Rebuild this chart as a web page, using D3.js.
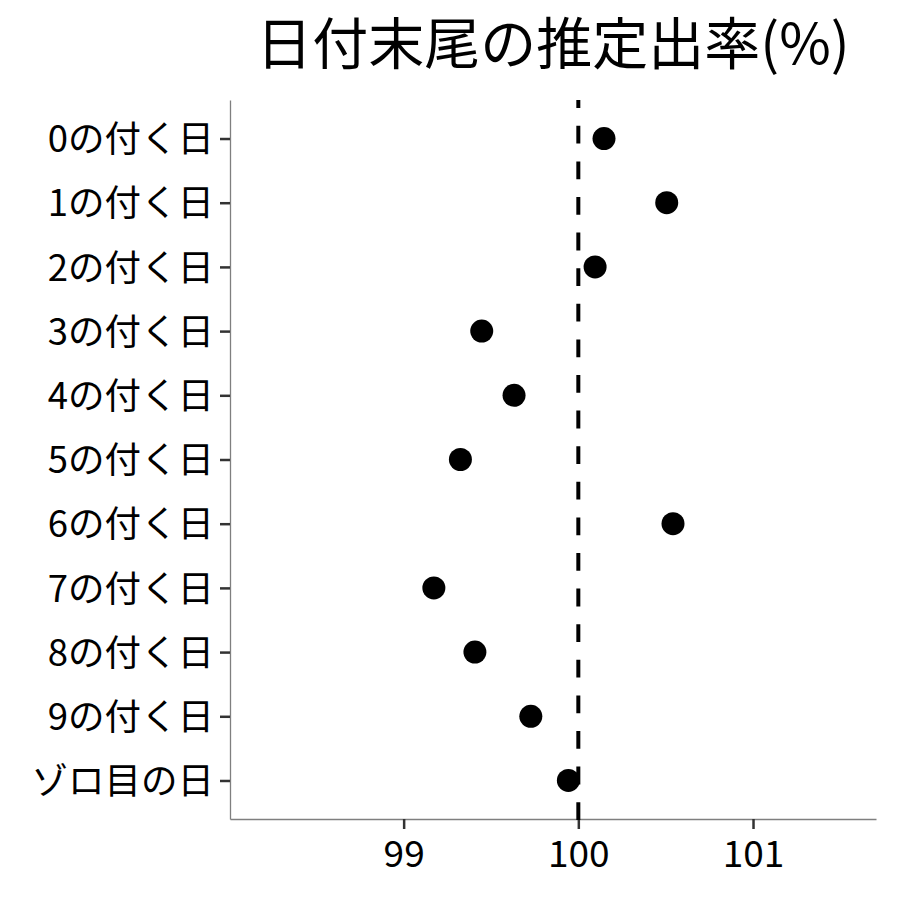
<!DOCTYPE html>
<html>
<head>
<meta charset="utf-8">
<script src="https://cdn.jsdelivr.net/npm/d3@7"></script>
<style>
  body { margin: 0; background: #fff; }
  text { font-family: "Noto Sans CJK JP", "Noto Sans", sans-serif; }
</style>
</head>
<body>
<div id="chart"></div>
<script>

// categories (top to bottom) and estimated rates (%)
const categories = ["0の付く日", "1の付く日", "2の付く日", "3の付く日", "4の付く日",
    "5の付く日", "6の付く日", "7の付く日", "8の付く日", "9の付く日", "ゾロ目の日"];
const rates = [100.147, 100.506, 100.096, 99.447, 99.632, 99.325, 100.542, 99.173, 99.408, 99.728, 99.943];
const xTicks = [99, 100, 101];
const refValue = 100;
const title = "日付末尾の推定出率(%)";

const data = categories.map((c, i) => ({cat: c, rate: rates[i]}));

const width = 900, height = 900;
const margin = {top: 100, right: 24, bottom: 81, left: 230};
const innerW = width - margin.left - margin.right;
const innerH = height - margin.top - margin.bottom;

const svg = d3.select("#chart").append("svg")
    .attr("width", width)
    .attr("height", height);

const g = svg.append("g")
    .attr("transform", "translate(" + margin.left + "," + margin.top + ")");

// scales
const x = d3.scaleLinear()
    .domain([98.006, 101.704])
    .range([0, innerW]);

const y = d3.scalePoint()
    .domain(categories)
    .range([0, innerH])
    .padding(0.6);

// title
svg.append("text")
    .attr("x", margin.left + innerW / 2)
    .attr("y", 64)
    .attr("text-anchor", "middle")
    .attr("font-size", 56)
    .attr("fill", "#000")
    .text(title);

// axes
const xAxis = g.append("g")
    .attr("transform", "translate(0," + innerH + ")")
    .call(d3.axisBottom(x).tickValues(xTicks).tickSizeInner(10).tickSizeOuter(0)
        .tickPadding(12).tickFormat(d3.format("d")));

const yAxis = g.append("g")
    .call(d3.axisLeft(y).tickSizeInner(10).tickSizeOuter(0).tickPadding(6));

[xAxis, yAxis].forEach(a => {
    a.select(".domain").attr("stroke", "#7f7f7f").attr("stroke-width", 1.3);
    a.selectAll(".tick line").attr("stroke", "#333").attr("stroke-width", 2.5);
    a.selectAll(".tick text").attr("fill", "#000");
});
xAxis.selectAll(".tick text").attr("font-size", 37);
yAxis.selectAll(".tick text").attr("font-size", 36.5).attr("dy", "0.36em");

// reference line
g.append("line")
    .attr("x1", x(refValue)).attr("x2", x(refValue))
    .attr("y1", innerH + 1).attr("y2", 0)
    .attr("stroke", "#000")
    .attr("stroke-width", 4)
    .attr("stroke-dasharray", "17.8,17.8");

// points
g.selectAll("circle.pt")
    .data(data)
    .enter().append("circle")
    .attr("class", "pt")
    .attr("cx", d => x(d.rate))
    .attr("cy", d => y(d.cat))
    .attr("r", 11.5)
    .attr("fill", "#000");

</script>
</body>
</html>
